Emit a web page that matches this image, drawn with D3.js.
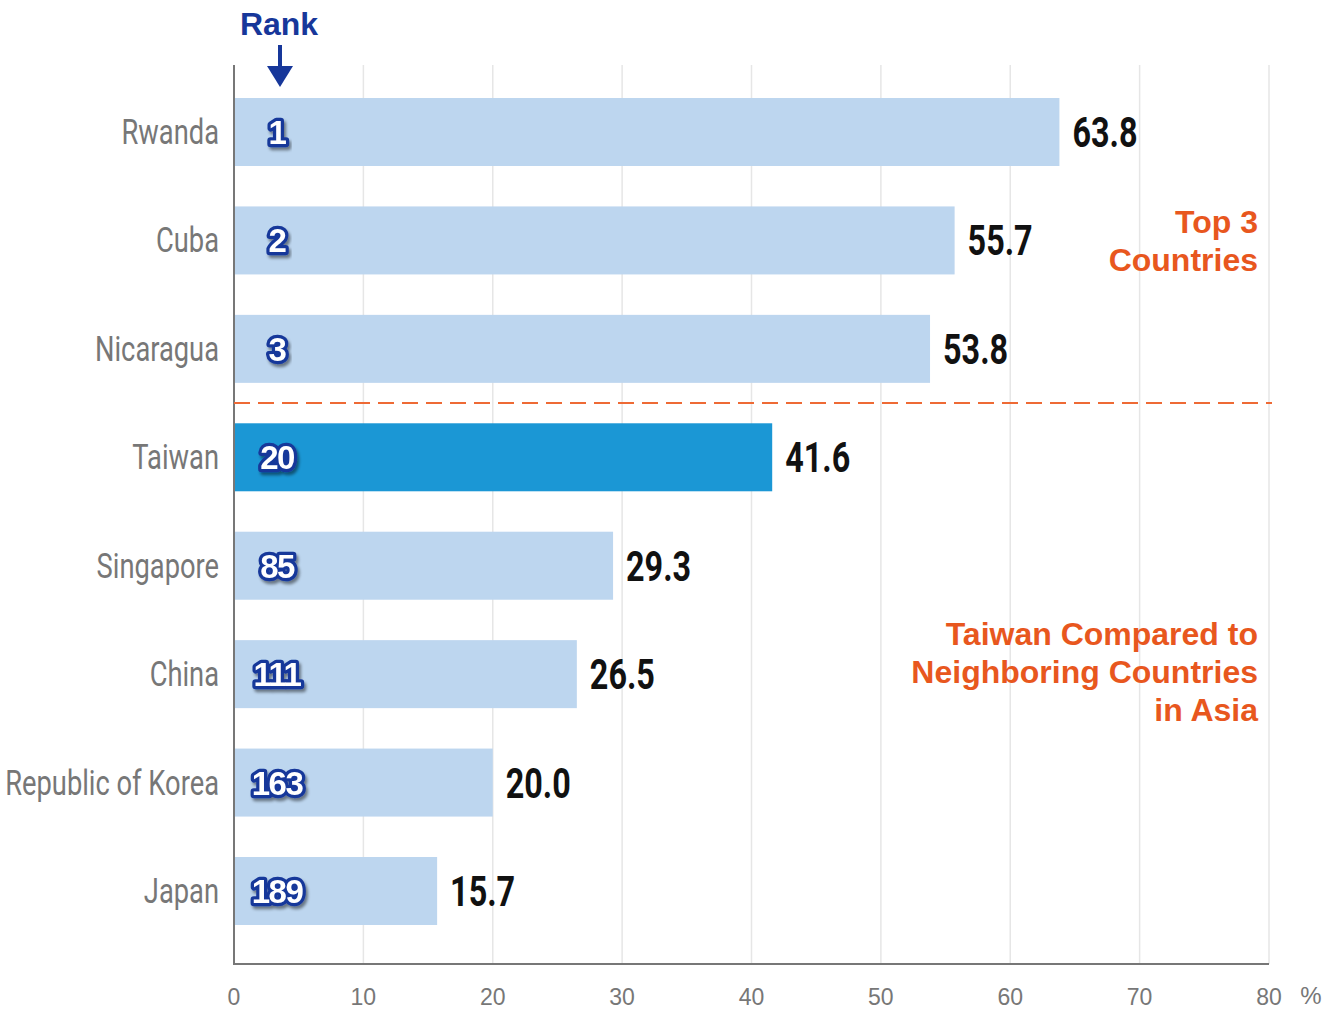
<!DOCTYPE html>
<html><head><meta charset="utf-8">
<script src="https://cdn.jsdelivr.net/npm/d3@7"></script>
<style>body{margin:0;background:#fff}svg{display:block}</style>
</head><body>
<svg id="c" width="1339" height="1009"></svg>
<script>
const countries = ["Rwanda","Cuba","Nicaragua","Taiwan","Singapore","China","Republic of Korea","Japan"];
const values = [63.8,55.7,53.8,41.6,29.3,26.5,20.0,15.7];
const ranks = [1,2,3,20,85,111,163,189];
const xTicks = [0,10,20,30,40,50,60,70,80];
const highlight = "Taiwan";

(function(){
const svg = d3.select("#c");
const x = d3.scaleLinear().domain([0,80]).range([234,1269]);
const y = d3.scalePoint().domain(countries).range([132,891]);
const barH = 68, plotTop = 65, plotBottom = 964;

const defs = svg.append("defs");
const f = defs.append("filter").attr("id","sh").attr("x","-30%").attr("y","-30%").attr("width","160%").attr("height","160%");
f.append("feDropShadow").attr("dx",2).attr("dy",3).attr("stdDeviation",1.5).attr("flood-color","#000").attr("flood-opacity",0.45);

// grid
svg.append("g").selectAll("line").data(xTicks.slice(1)).join("line")
  .attr("x1",d=>x(d)).attr("x2",d=>x(d)).attr("y1",plotTop).attr("y2",plotBottom)
  .attr("stroke","#e6e6e6").attr("stroke-width",1.5);

// bars
svg.append("g").selectAll("rect").data(countries).join("rect")
  .attr("x",x(0)).attr("y",d=>y(d)-barH/2)
  .attr("width",(d,i)=>x(values[i])-x(0)).attr("height",barH)
  .attr("fill",d=>d===highlight?"#1b97d5":"#bdd6ef");

// axes lines
svg.append("line").attr("x1",x(0)).attr("x2",x(0)).attr("y1",plotTop).attr("y2",plotBottom+1).attr("stroke","#777").attr("stroke-width",2);
svg.append("line").attr("x1",x(0)-1).attr("x2",x(80)).attr("y1",plotBottom).attr("y2",plotBottom).attr("stroke","#777").attr("stroke-width",2);

// x tick labels
svg.append("g").selectAll("text").data(xTicks).join("text")
  .attr("x",d=>x(d)).attr("y",1005).attr("text-anchor","middle")
  .attr("font-family","Liberation Sans, Arial, sans-serif").attr("font-size",23).attr("fill","#777")
  .text(d=>d);
svg.append("text").attr("x",1311).attr("y",1004).attr("text-anchor","middle")
  .attr("font-family","Liberation Sans, Arial, sans-serif").attr("font-size",24).attr("fill","#777").text("%");

// dashed separator
svg.append("line").attr("x1",x(0)).attr("x2",1272).attr("y1",403).attr("y2",403)
  .attr("stroke","#ee6a35").attr("stroke-width",2).attr("stroke-dasharray","16,8");

// country labels (condensed)
svg.append("g").selectAll("g").data(countries).join("g")
  .attr("transform",d=>`translate(219,${y(d)+12}) scale(0.78,1)`)
  .append("text").attr("text-anchor","end")
  .attr("font-family","Roboto, sans-serif").attr("font-size",35).attr("fill","#777")
  .text(d=>d);

// value labels
svg.append("g").selectAll("g").data(countries).join("g")
  .attr("transform",(d,i)=>`translate(${x(values[i])+13},${y(d)+15}) scale(0.77,1)`)
  .append("text")
  .attr("font-family","Roboto, sans-serif").attr("font-weight",700).attr("font-size",42).attr("fill","#111")
  .text((d,i)=>values[i].toFixed(1));

// rank badges
svg.append("g").selectAll("text").data(countries).join("text")
  .attr("x",277).attr("y",d=>y(d)+12).attr("text-anchor","middle")
  .attr("font-family","Liberation Sans, Arial, sans-serif").attr("font-weight",700).attr("font-size",33)
  .attr("letter-spacing",-1.5)
  .attr("fill","#fff").attr("stroke","#17379a").attr("stroke-width",6.5).attr("stroke-linejoin","round")
  .attr("paint-order","stroke").attr("filter","url(#sh)")
  .text((d,i)=>ranks[i]);

// Rank header + arrow
svg.append("text").attr("x",279).attr("y",35).attr("text-anchor","middle")
  .attr("font-family","Liberation Sans, Arial, sans-serif").attr("font-weight",700).attr("font-size",32).attr("fill","#17379a").text("Rank");
svg.append("line").attr("x1",280).attr("x2",280).attr("y1",45).attr("y2",70).attr("stroke","#17379a").attr("stroke-width",4);
svg.append("path").attr("d","M267,66 L293,66 L280,87 Z").attr("fill","#17379a");

// annotations
const ann = [["Top 3",233],["Countries",271],["Taiwan Compared to",645],["Neighboring Countries",683],["in Asia",721]];
svg.append("g").selectAll("text").data(ann).join("text")
  .attr("x",1258).attr("y",d=>d[1]).attr("text-anchor","end")
  .attr("font-family","Liberation Sans, Arial, sans-serif").attr("font-weight",700).attr("font-size",32).attr("fill","#e8571e")
  .text(d=>d[0]);
})();
</script>
</body></html>
